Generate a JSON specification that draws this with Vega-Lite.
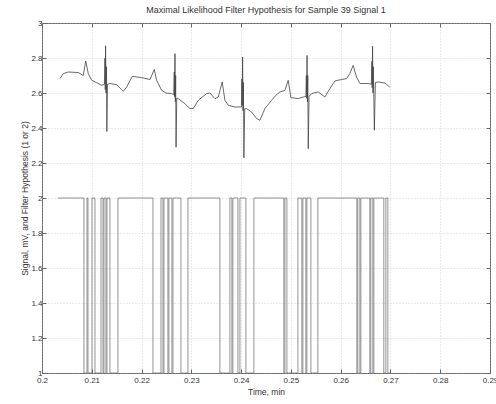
{
  "$schema": "https://vega.github.io/schema/vega-lite/v6.json",
  "width": 448,
  "height": 350,
  "autosize": {"type": "none"},
  "padding": {"left": 42, "top": 23, "right": 6, "bottom": 31},
  "background": "white",
  "title": {"text": "Maximal Likelihood Filter Hypothesis for Sample 39 Signal 1", "fontSize": 9, "fontWeight": "normal", "font": "Liberation Sans", "color": "#333", "offset": 4},
  "config": {
    "view": {"stroke": "#666", "strokeWidth": 1},
    "axis": {"labelFont": "Liberation Sans", "titleFont": "Liberation Sans", "labelFontSize": 8, "titleFontSize": 8.5, "titleFontWeight": "normal", "labelColor": "#333", "titleColor": "#333", "domain": false, "tickColor": "#666", "tickSize": -4, "gridColor": "#bbb", "gridDash": [1, 2], "gridWidth": 0.6}
  },
  "datasets": {
    "signal": [
      {"t": 0.20361, "v": 2.682}, {"t": 0.20428, "v": 2.711}, {"t": 0.20528, "v": 2.72}, {"t": 0.20729, "v": 2.717}, {"t": 0.20829, "v": 2.70}, {"t": 0.20878, "v": 2.783}, {"t": 0.2093, "v": 2.711}, {"t": 0.20998, "v": 2.673}, {"t": 0.21098, "v": 2.659}, {"t": 0.21199, "v": 2.644},
      {"t": 0.21255, "v": 2.65}, {"t": 0.21265, "v": 2.80}, {"t": 0.21271, "v": 2.62}, {"t": 0.21277, "v": 2.87}, {"t": 0.21287, "v": 2.60}, {"t": 0.21295, "v": 2.75}, {"t": 0.21303, "v": 2.38}, {"t": 0.21315, "v": 2.65},
      {"t": 0.21365, "v": 2.654}, {"t": 0.215, "v": 2.648}, {"t": 0.21633, "v": 2.61}, {"t": 0.21701, "v": 2.634}, {"t": 0.21813, "v": 2.695}, {"t": 0.22002, "v": 2.688}, {"t": 0.22169, "v": 2.677}, {"t": 0.22255, "v": 2.734}, {"t": 0.22303, "v": 2.673}, {"t": 0.22404, "v": 2.615}, {"t": 0.2249, "v": 2.60}, {"t": 0.22604, "v": 2.597},
      {"t": 0.22647, "v": 2.59}, {"t": 0.22657, "v": 2.72}, {"t": 0.22663, "v": 2.58}, {"t": 0.22671, "v": 2.825}, {"t": 0.22679, "v": 2.55}, {"t": 0.22685, "v": 2.70}, {"t": 0.22693, "v": 2.29}, {"t": 0.22707, "v": 2.57},
      {"t": 0.22737, "v": 2.568}, {"t": 0.22871, "v": 2.539}, {"t": 0.22972, "v": 2.511}, {"t": 0.23038, "v": 2.511}, {"t": 0.23139, "v": 2.558}, {"t": 0.23307, "v": 2.597}, {"t": 0.23373, "v": 2.60}, {"t": 0.23474, "v": 2.568}, {"t": 0.2354, "v": 2.577}, {"t": 0.2362, "v": 2.663}, {"t": 0.23675, "v": 2.558}, {"t": 0.23741, "v": 2.53}, {"t": 0.23876, "v": 2.52},
      {"t": 0.24006, "v": 2.52}, {"t": 0.24016, "v": 2.68}, {"t": 0.24022, "v": 2.53}, {"t": 0.2403, "v": 2.806}, {"t": 0.24038, "v": 2.50}, {"t": 0.24046, "v": 2.66}, {"t": 0.24056, "v": 2.23}, {"t": 0.24072, "v": 2.51},
      {"t": 0.2411, "v": 2.511}, {"t": 0.24211, "v": 2.491}, {"t": 0.24311, "v": 2.454}, {"t": 0.24378, "v": 2.444}, {"t": 0.24478, "v": 2.511}, {"t": 0.24612, "v": 2.558}, {"t": 0.24699, "v": 2.587}, {"t": 0.24779, "v": 2.606}, {"t": 0.2488, "v": 2.615}, {"t": 0.24946, "v": 2.673}, {"t": 0.25, "v": 2.574}, {"t": 0.25147, "v": 2.568}, {"t": 0.25247, "v": 2.577},
      {"t": 0.25301, "v": 2.58}, {"t": 0.25311, "v": 2.70}, {"t": 0.25317, "v": 2.57}, {"t": 0.25325, "v": 2.815}, {"t": 0.25333, "v": 2.55}, {"t": 0.25339, "v": 2.70}, {"t": 0.25349, "v": 2.282}, {"t": 0.25365, "v": 2.58},
      {"t": 0.25416, "v": 2.597}, {"t": 0.25548, "v": 2.606}, {"t": 0.25683, "v": 2.577}, {"t": 0.25783, "v": 2.625}, {"t": 0.25884, "v": 2.669}, {"t": 0.26018, "v": 2.677}, {"t": 0.26118, "v": 2.682}, {"t": 0.26185, "v": 2.711}, {"t": 0.26251, "v": 2.758}, {"t": 0.26319, "v": 2.691}, {"t": 0.26386, "v": 2.654}, {"t": 0.26552, "v": 2.654},
      {"t": 0.26616, "v": 2.65}, {"t": 0.26627, "v": 2.78}, {"t": 0.26633, "v": 2.63}, {"t": 0.26641, "v": 2.867}, {"t": 0.26649, "v": 2.60}, {"t": 0.26657, "v": 2.75}, {"t": 0.26677, "v": 2.387}, {"t": 0.26697, "v": 2.66},
      {"t": 0.26753, "v": 2.663}, {"t": 0.26888, "v": 2.657}, {"t": 0.26988, "v": 2.634}
    ],
    "hyp": [
      {"t": 0.20321, "h": 2}, {"t": 0.20843, "h": 1}, {"t": 0.20904, "h": 2}, {"t": 0.20924, "h": 1}, {"t": 0.21004, "h": 2}, {"t": 0.21064, "h": 1},
      {"t": 0.21185, "h": 2}, {"t": 0.21225, "h": 1}, {"t": 0.21245, "h": 2}, {"t": 0.21285, "h": 1}, {"t": 0.21305, "h": 2}, {"t": 0.21365, "h": 1},
      {"t": 0.21526, "h": 2}, {"t": 0.22229, "h": 1}, {"t": 0.2239, "h": 2}, {"t": 0.2243, "h": 1}, {"t": 0.2245, "h": 2}, {"t": 0.2253, "h": 1}, {"t": 0.2255, "h": 2}, {"t": 0.2261, "h": 1}, {"t": 0.22631, "h": 2}, {"t": 0.22791, "h": 1},
      {"t": 0.22932, "h": 2}, {"t": 0.23574, "h": 1}, {"t": 0.23775, "h": 2}, {"t": 0.23815, "h": 1}, {"t": 0.23835, "h": 2}, {"t": 0.23936, "h": 1}, {"t": 0.23976, "h": 2}, {"t": 0.24096, "h": 1},
      {"t": 0.24257, "h": 2}, {"t": 0.24859, "h": 1}, {"t": 0.2488, "h": 2}, {"t": 0.2492, "h": 1}, {"t": 0.25141, "h": 2}, {"t": 0.25221, "h": 1}, {"t": 0.25241, "h": 2}, {"t": 0.25301, "h": 1}, {"t": 0.25321, "h": 2}, {"t": 0.25402, "h": 1},
      {"t": 0.25542, "h": 2}, {"t": 0.26325, "h": 1}, {"t": 0.26345, "h": 2}, {"t": 0.26386, "h": 1}, {"t": 0.26406, "h": 2}, {"t": 0.26586, "h": 1}, {"t": 0.26606, "h": 2}, {"t": 0.26647, "h": 1}, {"t": 0.26667, "h": 2}, {"t": 0.26867, "h": 1}, {"t": 0.26908, "h": 2}, {"t": 0.26948, "h": 1}, {"t": 0.26988, "h": 1}
    ]
  },
  "layer": [
    {
      "data": {"name": "signal"},
      "mark": {"type": "line", "color": "#444", "strokeWidth": 0.8, "clip": true},
      "encoding": {
        "x": {"field": "t", "type": "quantitative", "scale": {"domain": [0.2, 0.29], "nice": false, "zero": false},
              "axis": {"orient": "bottom", "title": "Time, min", "values": [0.2, 0.21, 0.22, 0.23, 0.24, 0.25, 0.26, 0.27, 0.28, 0.29], "format": "~g", "labelPadding": 7, "titlePadding": 3, "grid": true, "labelFlush": false, "labelOverlap": false}},
        "y": {"field": "v", "type": "quantitative", "scale": {"domain": [1, 3], "nice": false, "zero": false},
              "axis": {"orient": "left", "title": "Signal, mV, and Filter Hypothesis (1 or 2)", "values": [1, 1.2, 1.4, 1.6, 1.8, 2, 2.2, 2.4, 2.6, 2.8, 3], "format": "~g", "labelPadding": 4, "titlePadding": 1, "grid": true, "labelFlush": false, "labelOverlap": false}}
      }
    },
    {
      "data": {"name": "hyp"},
      "mark": {"type": "line", "color": "#666", "strokeWidth": 0.7, "interpolate": "step-after", "clip": true},
      "encoding": {
        "x": {"field": "t", "type": "quantitative", "axis": {"orient": "top", "title": null, "labels": false, "grid": false, "values": [0.2, 0.21, 0.22, 0.23, 0.24, 0.25, 0.26, 0.27, 0.28, 0.29]}},
        "y": {"field": "h", "type": "quantitative", "axis": {"orient": "right", "title": null, "labels": false, "grid": false, "values": [1, 1.2, 1.4, 1.6, 1.8, 2, 2.2, 2.4, 2.6, 2.8, 3]}}
      }
    }
  ],
  "resolve": {"axis": {"x": "independent", "y": "independent"}}
}
